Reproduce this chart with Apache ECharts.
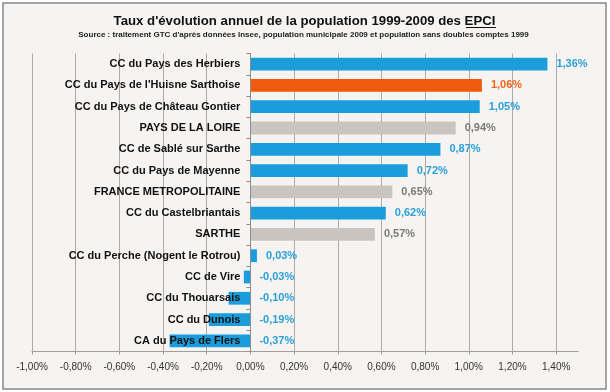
<!DOCTYPE html>
<html>
<head>
<meta charset="utf-8">
<script src="https://cdn.jsdelivr.net/npm/echarts@6/dist/echarts.min.js"></script>
<style>
html,body{margin:0;padding:0;background:#ffffff;}
#chart{width:610px;height:392px;}
</style>
</head>
<body>
<div id="chart"></div>
<script>
const categories = [
  "CC du Pays des Herbiers",
  "CC du Pays de l'Huisne Sarthoise",
  "CC du Pays de Château Gontier",
  "PAYS DE LA LOIRE",
  "CC de Sablé sur Sarthe",
  "CC du Pays de Mayenne",
  "FRANCE METROPOLITAINE",
  "CC du Castelbriantais",
  "SARTHE",
  "CC du Perche (Nogent le Rotrou)",
  "CC de Vire",
  "CC du Thouarsais",
  "CC du Dunois",
  "CA du Pays de Flers"
];
const values = [1.36, 1.06, 1.05, 0.94, 0.87, 0.72, 0.65, 0.62, 0.57, 0.03, -0.03, -0.10, -0.19, -0.37];
const groups = ["epci","focus","epci","ref","epci","epci","ref","epci","ref","epci","epci","epci","epci","epci"];
const tickValues = [-1.0,-0.8,-0.6,-0.4,-0.2,0,0.2,0.4,0.6,0.8,1.0,1.2,1.4];

const barColors = {epci:"#1b9ddc", focus:"#f15a0c", ref:"#c9c4bf"};
const labelColors = {epci:"#2b9fd8", focus:"#f0661e", ref:"#7a7a7a"};
const fmt = v => v.toFixed(2).replace('.', ',') + '%';

const chart = echarts.init(document.getElementById('chart'), null, {renderer:'canvas'});
const splitColors = tickValues.map(()=>'#aeaaa6').concat(['rgba(0,0,0,0)']);
const gridLeft = 32;

chart.setOption({
  backgroundColor: '#ffffff',
  animation: false,
  graphic: [
    {type:'rect', z:-10, shape:{x:3,y:3,width:603,height:386}, style:{fill:'#f6f4f2', stroke:'#8a8886', lineWidth:1.5}},
    {type:'text', x:304.5, y:21, style:{text:"Taux d'évolution annuel de la population 1999-2009 des EPCI", font:'bold 13.2px "Liberation Sans", Arial, sans-serif', fill:'#111', align:'center', verticalAlign:'middle'}},
    {type:'line', shape:{x1:466,y1:27.5,x2:496,y2:27.5}, style:{stroke:'#111', lineWidth:1}},
    {type:'text', x:303.5, y:35, style:{text:"Source : traitement GTC d'après données Insee, population municipale 2009 et population sans doubles comptes 1999", font:'bold 8px "Liberation Sans", Arial, sans-serif', fill:'#222', align:'center', verticalAlign:'middle'}}
  ],
  grid: {left:gridLeft, right:32, top:53.5, bottom:40.5, containLabel:false, outerBoundsMode:'none'},
  xAxis: {
    type:'value', min:-1.0, max:1.5, interval:0.2,
    axisLine:{show:true, lineStyle:{color:'#a19e9b', width:1}},
    axisTick:{show:true, length:3, customValues:tickValues, lineStyle:{color:'#a19e9b'}},
    axisLabel:{customValues:tickValues, margin:11, hideOverlap:false, color:'#333', fontSize:10, fontFamily:'"Liberation Sans", Arial, sans-serif', formatter: v => fmt(v)},
    splitLine:{show:true, lineStyle:{color:splitColors, width:1}}
  },
  yAxis: {
    type:'category', data:categories, inverse:true, z:5,
    axisLine:{show:true, onZero:false, lineStyle:{color:'#8f8c89'}},
    axisTick:{show:true, length:4, inside:false, lineStyle:{color:'#8f8c89'}},
    axisLabel:{margin:10, color:'#111', fontWeight:'bold', fontSize:11, fontFamily:'"Liberation Sans", Arial, sans-serif'}
  },
  series: [{
    type:'bar', barWidth:'60%',
    data: values.map((v,i)=>({
      value:v,
      itemStyle:{color:barColors[groups[i]]},
      label:{show:true, position:'right', distance:9, formatter: fmt(v), color:labelColors[groups[i]], fontWeight:'bold', fontSize:11, fontFamily:'"Liberation Sans", Arial, sans-serif'}
    }))
  }]
});
const zeroX = chart.convertToPixel({xAxisIndex:0}, 0);
chart.setOption({yAxis:{offset: -(zeroX - gridLeft)}});
</script>
</body>
</html>
